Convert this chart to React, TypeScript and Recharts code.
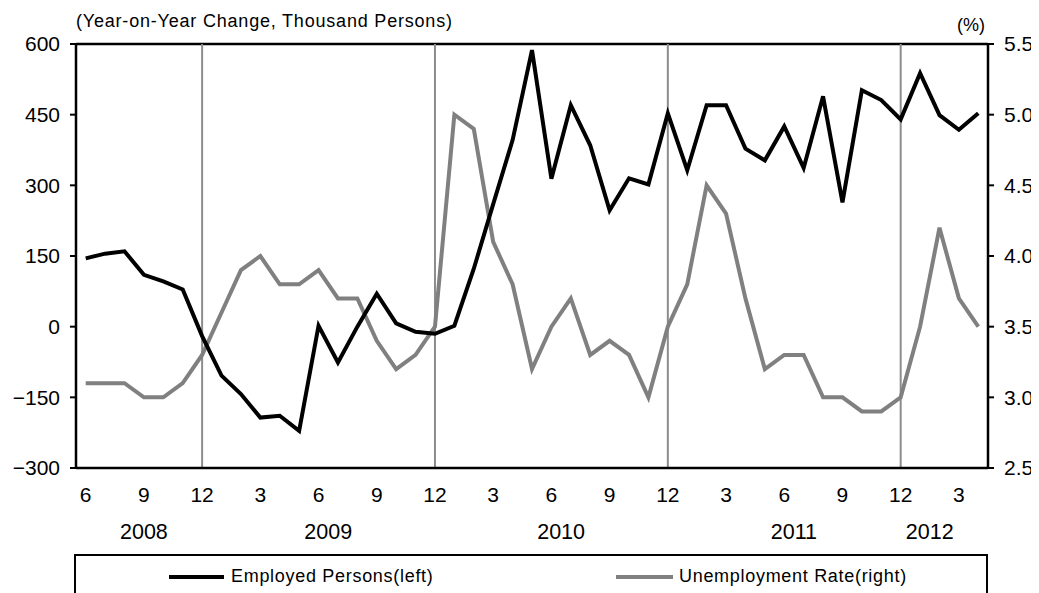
import {
  LineChart,
  Line,
  XAxis,
  YAxis,
  ReferenceLine,
  Legend,
} from "recharts";

// months from 2008.06 to 2012.04
const months = [
  6, 7, 8, 9, 10, 11, 12,
  1, 2, 3, 4, 5, 6, 7, 8, 9, 10, 11, 12,
  1, 2, 3, 4, 5, 6, 7, 8, 9, 10, 11, 12,
  1, 2, 3, 4, 5, 6, 7, 8, 9, 10, 11, 12,
  1, 2, 3, 4,
];

// year-on-year change in employed persons, thousand persons (left)
const employed = [
  145, 155, 160, 110, 96, 79, -20,
  -104, -143, -193, -189, -221, 2, -76, 0, 70, 7, -11, -15,
  2, 123, 260, 396, 587, 314, 470, 385, 247, 315, 302, 453,
  332, 470, 470, 378, 353, 425, 337, 489, 264, 502, 481, 440,
  538, 449, 418, 453,
];

// unemployment rate, % (right)
const unemployment = [
  3.1, 3.1, 3.1, 3.0, 3.0, 3.1, 3.3,
  3.6, 3.9, 4.0, 3.8, 3.8, 3.9, 3.7, 3.7, 3.4, 3.2, 3.3, 3.5,
  5.0, 4.9, 4.1, 3.8, 3.2, 3.5, 3.7, 3.3, 3.4, 3.3, 3.0, 3.5,
  3.8, 4.5, 4.3, 3.7, 3.2, 3.3, 3.3, 3.0, 3.0, 2.9, 2.9, 3.0,
  3.5, 4.2, 3.7, 3.5,
];

const leftTicks = [-300, -150, 0, 150, 300, 450, 600];
const rightTicks = [2.5, 3.0, 3.5, 4.0, 4.5, 5.0, 5.5];

// year labels: centre position in category index units
const yearLabels = [
  { year: "2008", pos: 3 },
  { year: "2009", pos: 12.5 },
  { year: "2010", pos: 24.5 },
  { year: "2011", pos: 36.5 },
  { year: "2012", pos: 43.5 },
];

let yr = 2008;
const data = months.map((m, i) => {
  if (i > 0 && m === 1) yr += 1;
  return {
    key: `${yr}-${m}`,
    month: m,
    employed: employed[i],
    unemployment: unemployment[i],
  };
});

const decembers = data.filter((d) => d.month === 12).map((d) => d.key);

const FONT = "'Liberation Sans', Arial, sans-serif";
const W = 1031;
const H = 585;
const LEFT_W = 68;
const RIGHT_W = 51;
const STEP = (W - LEFT_W - RIGHT_W) / data.length;

function MonthTick(props: any) {
  const { x, y, index } = props;
  const m = data[index]?.month ?? 0;
  const yl = yearLabels.filter((l) => Math.floor(l.pos) === index);
  return (
    <g>
      {m % 3 === 0 && (
        <text x={x} y={y + 26} textAnchor="middle" fontSize={21} fill="#000" fontFamily={FONT}>
          {m}
        </text>
      )}
      {yl.map((l) => (
        <text
          key={l.year}
          x={x + (l.pos - index) * STEP}
          y={y + 63}
          textAnchor="middle"
          fontSize={21.5}
          fill="#000"
          fontFamily={FONT}
        >
          {l.year}
        </text>
      ))}
    </g>
  );
}

function LegendBox() {
  return (
    <div
      style={{
        position: "relative",
        width: 914,
        height: 39,
        boxSizing: "border-box",
        borderTop: "2px solid #000",
        borderLeft: "2px solid #000",
        borderRight: "2px solid #000",
        fontFamily: FONT,
        fontSize: 18,
        letterSpacing: 0.7,
        color: "#000",
      }}
    >
      <div style={{ position: "absolute", left: 93, top: 19, width: 55, height: 4, background: "#000" }} />
      <span style={{ position: "absolute", left: 155, top: 10, lineHeight: "20px" }}>Employed Persons(left)</span>
      <div style={{ position: "absolute", left: 540, top: 19, width: 57, height: 4, background: "#808080" }} />
      <span style={{ position: "absolute", left: 603, top: 10, lineHeight: "20px" }}>Unemployment Rate(right)</span>
    </div>
  );
}

export default function App() {
  return (
    <div style={{ position: "relative", width: W, height: H, fontFamily: FONT }}>
      <div
        style={{
          position: "absolute",
          left: 68,
          top: 3,
          fontSize: 18,
          letterSpacing: 0.8,
          lineHeight: "20px",
          whiteSpace: "nowrap",
        }}
      >
        (Year-on-Year Change, Thousand Persons)
      </div>
      <div style={{ position: "absolute", left: 949, top: 7, fontSize: 18, lineHeight: "20px" }}>(%)</div>
      <LineChart width={W} height={H} data={data} margin={{ top: 36, right: 0, left: 0, bottom: 0 }}>
        <XAxis
          dataKey="key"
          interval={0}
          tickLine={false}
          axisLine={{ stroke: "#000", strokeWidth: 2.5 }}
          height={86}
          padding={{ left: STEP / 2, right: STEP / 2 }}
          tick={<MonthTick />}
        />
        <YAxis
          yAxisId="left"
          domain={[-300, 600]}
          ticks={leftTicks}
          width={LEFT_W}
          axisLine={{ stroke: "#000", strokeWidth: 2.5 }}
          tickLine={{ stroke: "#000", strokeWidth: 2 }}
          tickSize={6}
          tickMargin={10}
          tickFormatter={(v: number) => (v < 0 ? `\u2212${Math.abs(v)}` : `${v}`)}
          tick={{ fill: "#000", fontSize: 21, fontFamily: FONT }}
          interval={0}
        />
        <YAxis
          yAxisId="right"
          orientation="right"
          domain={[2.5, 5.5]}
          ticks={rightTicks}
          width={RIGHT_W}
          axisLine={{ stroke: "#000", strokeWidth: 2.5 }}
          tickLine={{ stroke: "#000", strokeWidth: 2 }}
          tickSize={6}
          tickMargin={10}
          tickFormatter={(v: number) => v.toFixed(1)}
          tick={{ fill: "#000", fontSize: 21, fontFamily: FONT }}
          interval={0}
        />
        <ReferenceLine yAxisId="left" y={600} stroke="#000" strokeWidth={2.5} />
        {decembers.map((k) => (
          <ReferenceLine key={k} yAxisId="left" x={k} stroke="#8c8c8c" strokeWidth={2} />
        ))}
        <Line
          yAxisId="right"
          dataKey="unemployment"
          stroke="#808080"
          strokeWidth={4}
          dot={false}
          isAnimationActive={false}
        />
        <Line
          yAxisId="left"
          dataKey="employed"
          stroke="#000"
          strokeWidth={4}
          dot={false}
          isAnimationActive={false}
        />
        <Legend
          verticalAlign="bottom"
          height={39}
          wrapperStyle={{ left: 66, width: 914 }}
          content={<LegendBox />}
        />
      </LineChart>
    </div>
  );
}
